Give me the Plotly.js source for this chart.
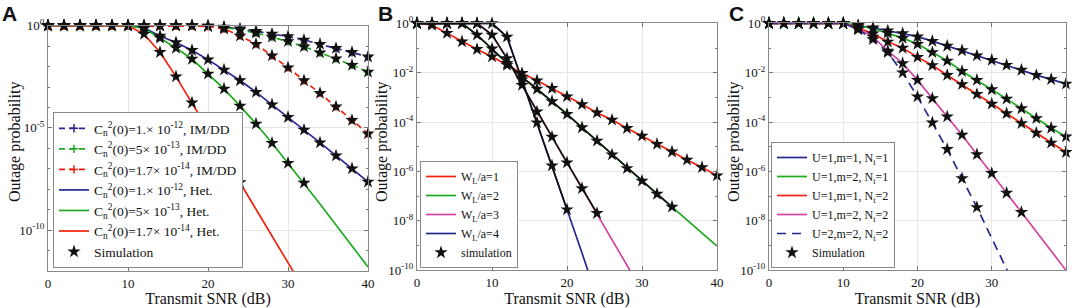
<!DOCTYPE html>
<html><head><meta charset="utf-8">
<script src="https://cdn.plot.ly/plotly-3.0.1.min.js"></script>
<style>html,body{margin:0;padding:0;background:#fff}#chart{width:1072px;height:308px}</style>
</head><body><div id="chart"></div>
<script>
// Transmit SNR (dB) sample points
const snr = [0,2,4,6,8,10,12,14,16,18,20,22,24,26,28,30,32,34,36,38,40];

// ---- Panel A: log10(outage probability) ----
const aLabels = [
  'C<sub>n</sub><sup>2</sup>(0)=1.× 10<sup>-12</sup>, IM/DD',
  'C<sub>n</sub><sup>2</sup>(0)=5× 10<sup>-13</sup>, IM/DD',
  'C<sub>n</sub><sup>2</sup>(0)=1.7× 10<sup>-14</sup>, IM/DD',
  'C<sub>n</sub><sup>2</sup>(0)=1.× 10<sup>-12</sup>, Het.',
  'C<sub>n</sub><sup>2</sup>(0)=5× 10<sup>-13</sup>, Het.',
  'C<sub>n</sub><sup>2</sup>(0)=1.7× 10<sup>-14</sup>, Het.'
];
const aImddBlue  = [0,0,0,0,0,0,0,0,0,0,-0.01,-0.06,-0.15,-0.27,-0.4,-0.53,-0.7,-0.9,-1.1,-1.3,-1.52];
const aImddGreen = [0,0,0,0,0,0,0,0,0,0,-0.01,-0.08,-0.2,-0.35,-0.55,-0.77,-1.02,-1.32,-1.61,-1.93,-2.26];
const aImddRed   = [0,0,0,0,0,0,0,0,0,0,-0.03,-0.15,-0.5,-0.9,-1.46,-2.05,-2.68,-3.3,-3.96,-4.62,-5.28];
const aHetBlue   = [0,0,0,0,0,0,-0.1,-0.5,-0.82,-1.2,-1.66,-2.16,-2.68,-3.25,-3.86,-4.48,-5.1,-5.72,-6.36,-6.99,-7.64];
const aHetGreen  = [0,0,0,0,0,0,-0.13,-0.6,-1.09,-1.63,-2.36,-3.09,-3.92,-4.8,-5.74,-6.72,-7.69,-8.72,-9.75,-10.78,-11.8];
const aHetRed    = [0,0,0,0,0,0,-0.41,-1.3,-2.49,-3.77,-5.06,-6.37,-7.67,-8.98,-10.29,-11.6,-12.9];
const aSimCount  = [21,21,21,21,17,13];

// ---- Panel B ----
const bLabels = ['W<sub>L</sub>/a=1','W<sub>L</sub>/a=2','W<sub>L</sub>/a=3','W<sub>L</sub>/a=4'];
const bW1 = [0,-0.07,-0.4,-0.74,-1.05,-1.35,-1.69,-2.02,-2.32,-2.63,-2.97,-3.28,-3.62,-3.91,-4.25,-4.56,-4.89,-5.2,-5.53,-5.83,-6.17];
const bW2 = [0,0,0,0,-0.47,-1.03,-1.61,-2.18,-2.66,-3.16,-3.68,-4.22,-4.76,-5.32,-5.87,-6.38,-6.91,-7.43,-7.96,-8.49,-9.02];
const bW3 = [0,0,0,0,0,-0.47,-1.42,-2.5,-3.58,-4.6,-5.64,-6.68,-7.69,-8.74,-9.79,-10.84];
const bW4 = [0,0,0,0,0,0,-0.55,-2.28,-4.02,-5.76,-7.54,-9.3,-11.1];
const bSimCount = [21,18,13,11];

// ---- Panel C ----
const cLabels = ['U=1,m=1, N<sub>t</sub>=1','U=1,m=2, N<sub>t</sub>=1','U=1,m=1, N<sub>t</sub>=2','U=1,m=2, N<sub>t</sub>=2','U=2,m=2, N<sub>t</sub>=2'];
const c1 = [0,0,0,0,0,0,-0.11,-0.18,-0.3,-0.41,-0.54,-0.72,-0.92,-1.1,-1.31,-1.49,-1.69,-1.89,-2.1,-2.27,-2.45];
const c2 = [0,0,0,0,0,0,-0.08,-0.22,-0.4,-0.6,-0.84,-1.18,-1.52,-1.94,-2.3,-2.68,-3.06,-3.45,-3.85,-4.24,-4.59];
const c3 = [0,0,0,0,0,0,-0.18,-0.42,-0.75,-1.0,-1.37,-1.7,-2.1,-2.47,-2.87,-3.26,-3.65,-4.05,-4.44,-4.84,-5.22];
const c4 = [0,0,0,0,0,0,-0.2,-0.55,-1.12,-1.62,-2.3,-3.04,-3.78,-4.52,-5.31,-6.07,-6.87,-7.65,-8.45,-9.23,-10.0];
const c5 = [0,0,0,0,0,0,-0.25,-0.65,-1.18,-2.0,-2.97,-4.02,-5.1,-6.28,-7.45,-8.7,-9.95,-11.2];
const cSimCount = [21,21,21,18,15];

// ---- styling ----
const NAVY = '#27278f', GREEN = '#1faa1f', RED = '#f2220f', MAG = '#d4439f';
const SERIF = 'Liberation Serif';
const SANS = 'Liberation Sans';
const toP = a => a.map(v => Math.pow(10, v));

function line(name, logs, color, dash, ax, legend, marker) {
  const t = {type:'scatter', mode: marker ? 'lines+markers' : 'lines', name: name,
    x: snr.slice(0, logs.length), y: toP(logs), xaxis: 'x'+ax, yaxis: 'y'+ax,
    line:{color: color, width: 1.7, dash: dash || 'solid'}, legend: legend};
  if (marker) { t.marker = {symbol:'cross-thin', size:6, line:{color: color, width:1.5}, color: color}; t.cliponaxis = false; }
  return t;
}
function stars(name, logs, n, ax, legend, show, withLine) {
  return {type:'scatter', mode: withLine ? 'lines+markers' : 'markers', name: name,
    x: snr.slice(0, n), y: toP(logs.slice(0, n)), xaxis:'x'+ax, yaxis:'y'+ax,
    marker:{symbol:'star', size:10, color:'#111'}, line:{color:'#111', width:1.7},
    showlegend: show, legend: legend, cliponaxis:false};
}

const traces = [];
const aData = [aImddBlue, aImddGreen, aImddRed, aHetBlue, aHetGreen, aHetRed];
const aCol = [NAVY, GREEN, RED, NAVY, GREEN, RED];
aData.forEach((d,i) => traces.push(line(aLabels[i], d, aCol[i], i<3 ? '6px,4px' : 'solid', '', 'legend', i<3)));
aData.forEach((d,i) => traces.push(stars('Simulation', d, aSimCount[i], '', 'legend', i===5, false)));

const bData = [bW1, bW2, bW3, bW4];
const bCol = [RED, GREEN, MAG, NAVY];
bData.forEach((d,i) => traces.push(line(bLabels[i], d, bCol[i], 'solid', '2', 'legend2', false)));
[1,2,3].forEach(i => traces.push(stars('simulation', bData[i], bSimCount[i], '2', 'legend2', false, true)));
traces.push(stars('simulation', bW1, bSimCount[0], '2', 'legend2', true, false));

const cData = [c1, c2, c3, c4, c5];
const cCol = [NAVY, GREEN, RED, MAG, NAVY];
cData.forEach((d,i) => traces.push(line(cLabels[i], d, cCol[i], i===4 ? '9px,6px' : 'solid', '3', 'legend3', false)));
cData.forEach((d,i) => traces.push(stars('Simulation', d, cSimCount[i], '3', 'legend3', i===4, false)));

const tickF = {family:SERIF, size:13, color:'#111'};
const titleF = {family:SERIF, size:16, color:'#111'};
function xax(domain, anchor) {
  return {domain: domain, anchor: anchor, range:[0,40], tickvals:[0,10,20,30,40],
    showgrid:true, gridcolor:'#e6e6e6', gridwidth:1, zeroline:false,
    ticks:'inside', ticklen:4, tickcolor:'#777', showline:true, linecolor:'#888', linewidth:1, mirror:'ticks',
    tickfont: tickF, title:{text:'Transmit SNR (dB)', font: titleF, standoff:2}};
}
function yax(domain, anchor, lo, tv, tt, minorv) {
  return {domain: domain, anchor: anchor, type:'log', range:[lo,0], tickvals: tv, ticktext: tt,
    showgrid:true, gridcolor:'#e6e6e6', gridwidth:1, zeroline:false,
    ticks:'inside', ticklen:4, tickcolor:'#777', showline:true, linecolor:'#888', linewidth:1, mirror:'ticks',
    minor:{tickmode:'array', tickvals: minorv, ticklen:2, ticks:'inside', tickcolor:'#777', showgrid:false},
    tickfont: tickF};
}
const decA = [], decB = [];
for (let k = 0; k >= -12; k--) decA.push(Math.pow(10,k));
for (let k = 0; k >= -10; k--) decB.push(Math.pow(10,k));

const legendBase = {xanchor:'left', yanchor:'bottom', bgcolor:'#fff', bordercolor:'#888', borderwidth:1,
  tracegroupgap:0, itemwidth:30};

function letter(t, px) {
  return {text:'<b>'+t+'</b>', x:px/1072, y:1, xref:'paper', yref:'paper', xanchor:'left', yanchor:'top',
    showarrow:false, font:{family:SANS, size:21, color:'#111'}};
}
function ytitle(px) {
  return {text:'Outage probability', textangle:-90, x:px/1072, y:1-142/308, xref:'paper', yref:'paper',
    xanchor:'center', yanchor:'middle', showarrow:false, font: titleF};
}

const layout = {
  width:1072, height:308, margin:{l:0,r:0,t:0,b:0}, paper_bgcolor:'#fff', plot_bgcolor:'#fff',
  font:{family:SERIF, size:13, color:'#111'},
  showlegend:true,
  xaxis: xax([48/1072, 368/1072], 'y'),
  yaxis: yax([1-271/308, 1-25.7/308], 'x', -12, [1,1e-5,1e-10], ['10<sup>0</sup>','10<sup>-5</sup>','10<sup>-10</sup>'], decA),
  xaxis2: xax([417/1072, 717/1072], 'y2'),
  yaxis2: yax([1-270.3/308, 1-23.3/308], 'x2', -10, [1,1e-2,1e-4,1e-6,1e-8,1e-10], ['10<sup>0</sup>','10<sup>-2</sup>','10<sup>-4</sup>','10<sup>-6</sup>','10<sup>-8</sup>','10<sup>-10</sup>'], decB),
  xaxis3: xax([769/1072, 1066/1072], 'y3'),
  yaxis3: yax([1-270.3/308, 1-23.3/308], 'x3', -10, [1,1e-2,1e-4,1e-6,1e-8,1e-10], ['10<sup>0</sup>','10<sup>-2</sup>','10<sup>-4</sup>','10<sup>-6</sup>','10<sup>-8</sup>','10<sup>-10</sup>'], decB),
  legend: Object.assign({}, legendBase, {x:53/1072, y:1-268/308, font:{family:SERIF, size:13.5, color:'#111'}}),
  legend2: Object.assign({}, legendBase, {x:420/1072, y:1-268/308, font:{family:SERIF, size:12, color:'#111'}}),
  legend3: Object.assign({}, legendBase, {x:771/1072, y:1-268/308, font:{family:SERIF, size:12, color:'#111'}}),
  annotations: [letter('A', 0), letter('B', 376), letter('C', 727), ytitle(15), ytitle(382), ytitle(734)]
};
Plotly.newPlot('chart', traces, layout, {displayModeBar:false, staticPlot:true});
</script>
</body></html>
